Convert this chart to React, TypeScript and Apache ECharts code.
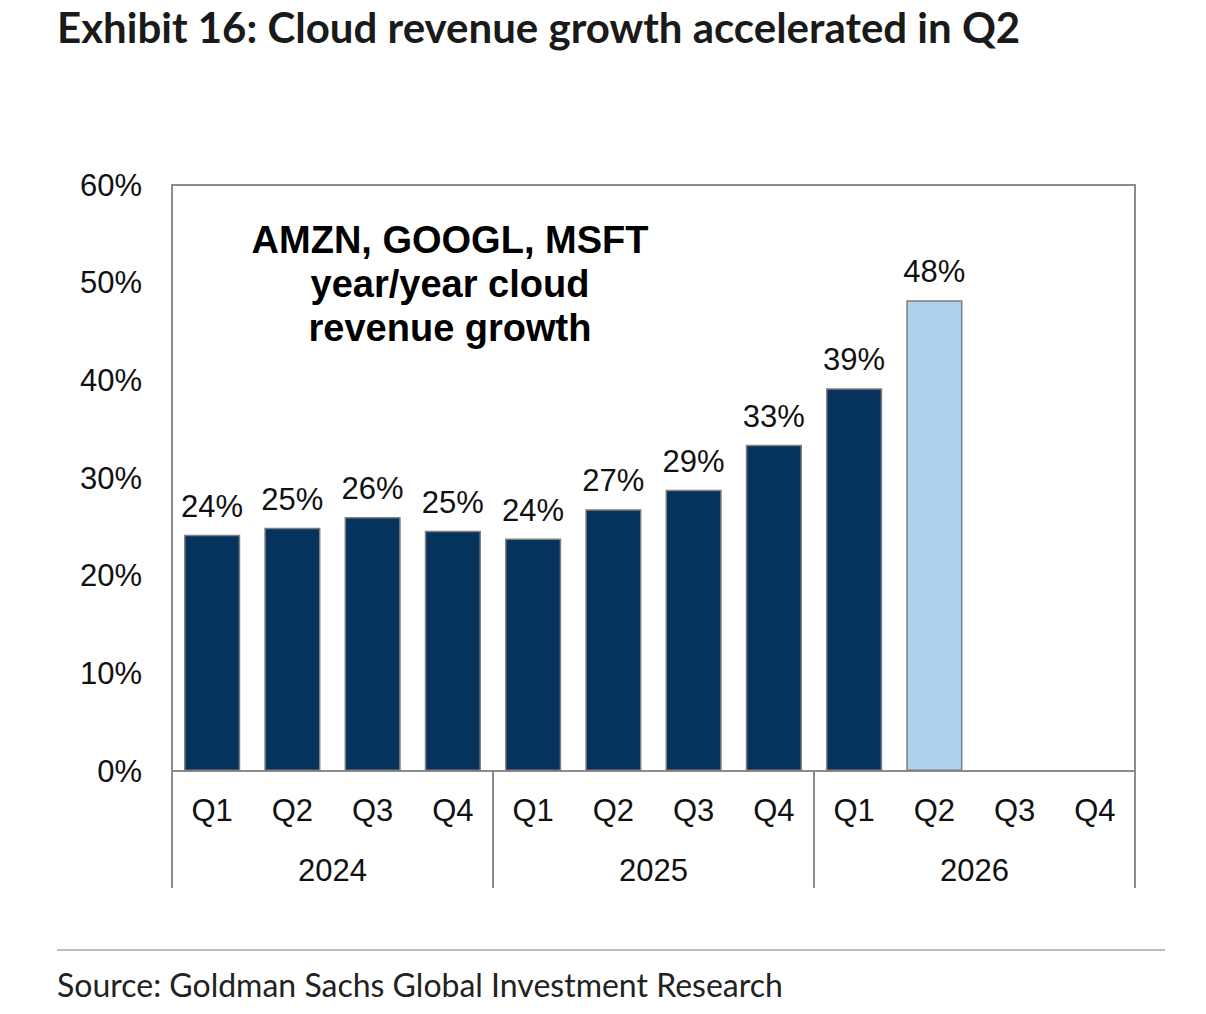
import React, { useEffect, useRef } from 'react';
import * as echarts from 'echarts';

const quarters = ['Q1', 'Q2', 'Q3', 'Q4', 'Q1', 'Q2', 'Q3', 'Q4', 'Q1', 'Q2', 'Q3', 'Q4'];
const years = ['2024', '2025', '2026'];
// 云收入同比增速 (%)，最后一根为浅色
const growth = [24.2, 24.9, 26.0, 24.6, 23.8, 26.8, 28.8, 33.4, 39.2, 48.2, null, null];
const highlightIndex = 9;
const yTicks = [0, 10, 20, 30, 40, 50, 60];

const NAVY = '#06335d';
const LIGHT = '#acd2ee';
const GRAY = '#8c8c8c';
const ARIAL = '"Liberation Sans", Arial, sans-serif';

function App() {
  const chartRef = useRef<HTMLDivElement>(null);

  useEffect(() => {
    const chart = echarts.init(chartRef.current, null, { renderer: 'svg' });

    const options = {
      animation: false,
      backgroundColor: '#fff',
      title: {
        text: 'Exhibit 16: Cloud revenue growth accelerated in Q2',
        left: 57,
        top: 6,
        padding: 0,
        textStyle: { fontFamily: 'Lato', fontWeight: 'bold', fontSize: 42, color: '#1a1a1a' },
      },
      grid: {
        left: 172,
        right: 71,
        top: 185,
        bottom: 243,
        show: true,
        borderColor: GRAY,
        borderWidth: 2,
      },
      xAxis: [
        {
          type: 'category',
          data: quarters,
          position: 'bottom',
          axisLine: { show: true, lineStyle: { color: GRAY, width: 2 } },
          axisTick: { show: false },
          axisLabel: { color: '#111', fontFamily: ARIAL, fontSize: 31, margin: 24, interval: 0 },
        },
        {
          type: 'category',
          data: years,
          position: 'bottom',
          offset: 117,
          axisLine: { show: false },
          axisTick: { show: true, inside: true, length: 117, interval: 0, lineStyle: { color: GRAY, width: 2 } },
          axisLabel: { inside: true, color: '#111', fontFamily: ARIAL, fontSize: 31, margin: 2 },
        },
      ],
      yAxis: {
        type: 'value',
        min: yTicks[0],
        max: yTicks[yTicks.length - 1],
        interval: 10,
        splitLine: { show: false },
        axisTick: { show: false },
        axisLine: { show: true, lineStyle: { color: GRAY, width: 2 } },
        axisLabel: { formatter: '{value}%', color: '#111', fontFamily: ARIAL, fontSize: 31, margin: 30 },
      },
      graphic: [
        {
          type: 'text',
          x: 450,
          y: 284,
          style: {
            text: 'AMZN, GOOGL, MSFT\nyear/year cloud\nrevenue growth',
            fontFamily: ARIAL,
            fontWeight: 'bold',
            fontSize: 38,
            lineHeight: 44,
            fill: '#000',
            textAlign: 'center',
            textVerticalAlign: 'middle',
          },
        },
        {
          type: 'line',
          shape: { x1: 57, y1: 950, x2: 1165, y2: 950 },
          style: { stroke: '#bdbdbd', lineWidth: 2 },
        },
        {
          type: 'text',
          x: 57,
          y: 984,
          style: {
            text: 'Source: Goldman Sachs Global Investment Research',
            fontFamily: 'Lato',
            fontSize: 32,
            fill: '#222',
            textVerticalAlign: 'middle',
          },
        },
      ],
      series: [
        {
          type: 'bar',
          xAxisIndex: 0,
          barCategoryGap: '30%',
          data: growth.map((v, i) => ({
            value: v,
            itemStyle: { color: i === highlightIndex ? LIGHT : NAVY },
          })),
          itemStyle: { borderColor: '#7f7f7f', borderWidth: 1.5 },
          label: {
            show: true,
            position: 'top',
            distance: 13,
            formatter: (p: any) => (p.value == null ? '' : Math.round(p.value) + '%'),
            color: '#111',
            fontFamily: ARIAL,
            fontSize: 31,
          },
        },
      ],
    };

    chart.setOption(options);

    return () => {
      chart.dispose();
    };
  }, []);

  return (
    <div
      ref={chartRef}
      style={{ position: 'absolute', left: 0, top: 0, width: '1206px', height: '1014px' }}
    ></div>
  );
}

export default App;
